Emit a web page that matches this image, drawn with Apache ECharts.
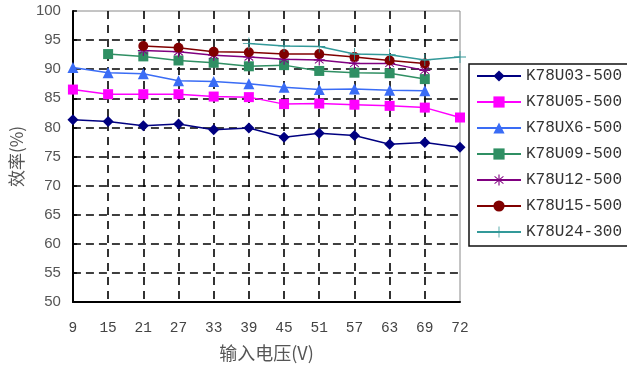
<!DOCTYPE html>
<html>
<head>
<meta charset="utf-8">
<script src="https://cdn.jsdelivr.net/npm/echarts@6/dist/echarts.min.js"></script>
<style>
  html, body { margin: 0; padding: 0; background: #fff; }
  #chart { width: 627px; height: 369px; }
</style>
</head>
<body>
<div id="chart"></div>
<script>
// Input voltage steps (V)
const volts = ['9', '15', '21', '27', '33', '39', '45', '51', '57', '63', '69', '72'];

// Efficiency (%) per model at each input voltage
const u03 = [81.3, 81.0, 80.3, 80.6, 79.6, 79.9, 78.3, 79.0, 78.6, 77.1, 77.4, 76.6];
const u05 = [86.5, 85.7, 85.7, 85.7, 85.3, 85.2, 84.0, 84.1, 83.9, 83.7, 83.4, 81.7];
const ux6 = [90.3, 89.4, 89.2, 88.0, 87.9, 87.5, 86.9, 86.5, 86.6, 86.4, 86.3, null];
const u09 = [null, 92.6, 92.2, 91.5, 91.1, 90.5, 90.7, 89.7, 89.4, 89.3, 88.3, null];
const u12 = [null, null, 93.2, 93.0, 92.4, 92.1, 91.7, 91.6, 91.0, 91.0, 89.8, null];
const u15 = [null, null, 94.0, 93.7, 93.0, 92.9, 92.6, 92.6, 92.1, 91.5, 91.0, null];
const u24 = [null, null, null, null, null, 94.4, 94.0, 93.9, 92.6, 92.5, 91.6, 92.1];

const names = ['K78U03-500', 'K78U05-500', 'K78UX6-500', 'K78U09-500', 'K78U12-500', 'K78U15-500', 'K78U24-300'];
const yTicks = { min: 50, max: 100, step: 5 };

// Marker outlines
const asterisk = 'path://M-1,-10L1,-10L1,10L-1,10Z M-8.4,-5.6L-7.4,-7.1L8.4,5.6L7.4,7.1Z M-8.4,5.6L-7.4,7.1L8.4,-5.6L7.4,-7.1Z M-10,-1L10,-1L10,1L-10,1Z';
const plus = 'path://M-0.7,-10L0.7,-10L0.7,10L-0.7,10Z M-10,-0.7L10,-0.7L10,0.7L-10,0.7Z';

const styles = [
  { data: u03, color: '#000080', symbol: 'diamond', size: 11 },
  { data: u05, color: '#ff00ff', symbol: 'rect', size: 10 },
  { data: ux6, color: '#3a6cf5', symbol: 'triangle', size: 11 },
  { data: u09, color: '#2f8f63', symbol: 'rect', size: 10 },
  { data: u12, color: '#800080', symbol: asterisk, size: 11 },
  { data: u15, color: '#800000', symbol: 'circle', size: 10 },
  { data: u24, color: '#339999', symbol: plus, size: 12 }
];

const chart = echarts.init(document.getElementById('chart'), null, { renderer: 'canvas' });

chart.setOption({
  backgroundColor: '#fff',
  animation: false,
  grid: {
    left: 66, right: 167, top: 11, bottom: 67,
    show: true, borderColor: '#8a8a8a', borderWidth: 1, backgroundColor: 'transparent'
  },
  legend: {
    orient: 'vertical',
    left: 469, top: 64,
    padding: [4, 12, 6, 7],
    itemWidth: 44, itemHeight: 14, itemGap: 10,
    borderColor: '#111', borderWidth: 1.5,
    textStyle: { fontFamily: 'Liberation Mono', fontSize: 16, color: '#333' },
    data: names
  },
  xAxis: {
    type: 'category',
    data: volts,
    boundaryGap: false,
    name: '输入电压(V)',
    nameLocation: 'middle',
    nameGap: 42,
    nameTextStyle: { fontFamily: 'Noto Sans CJK SC', fontSize: 18, color: '#555' },
    axisLine: { lineStyle: { color: '#000', width: 2 } },
    axisTick: { show: false },
    axisLabel: { interval: 0, margin: 19, fontFamily: 'Liberation Mono', fontSize: 14.5, color: '#444' },
    splitLine: {
      show: true, showMinLine: false, showMaxLine: false,
      lineStyle: { color: '#000', width: 1.6, type: [8, 6] }
    }
  },
  yAxis: {
    type: 'value',
    min: yTicks.min, max: yTicks.max, interval: yTicks.step,
    name: '效率(%)',
    nameLocation: 'middle',
    nameGap: 46,
    nameTextStyle: { fontFamily: 'Noto Sans CJK SC', fontSize: 17, color: '#555' },
    axisLine: { show: true, lineStyle: { color: '#000', width: 2 } },
    axisTick: { show: true, inside: true, length: 4, lineStyle: { color: '#000', width: 1.5 } },
    axisLabel: { margin: 12, fontFamily: 'Liberation Sans', fontSize: 15, color: '#555' },
    splitLine: {
      show: true, showMinLine: false, showMaxLine: false,
      lineStyle: { color: '#000', width: 1.6, type: [8, 5] }
    }
  },
  series: styles.map((s, i) => ({
    name: names[i],
    type: 'line',
    data: s.data,
    symbol: s.symbol,
    symbolSize: s.size,
    showAllSymbol: true,
    lineStyle: { color: s.color, width: 1.5 },
    itemStyle: { color: s.color, borderWidth: 0 },
    z: 3 + i
  }))
});
</script>
</body>
</html>
